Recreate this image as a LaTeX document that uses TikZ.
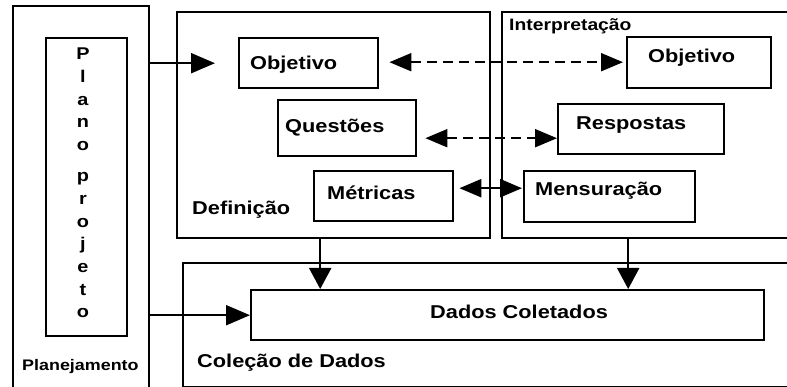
\documentclass[tikz,border=0pt]{standalone}
\usepackage{fontspec}
\setmainfont[FakeStretch=1.17]{Liberation Sans}
\usetikzlibrary{arrows.meta}
\begin{document}
\begin{tikzpicture}[x=1pt,y=-1pt,
  box/.style={draw, line width=2.4pt, inner sep=0pt, anchor=north west},
  txt/.style={font=\bfseries\fontsize{18.6}{20}\selectfont, inner sep=0pt, anchor=base west},
  smalltxt/.style={font=\bfseries\fontsize{16.5}{18}\selectfont, inner sep=0pt, anchor=base west},
  tinytxt/.style={font=\bfseries\fontsize{15.3}{17}\selectfont, inner sep=0pt, anchor=base west},
  arr/.style={line width=2pt, -{Triangle[length=24pt,width=20pt]}},
  darr/.style={line width=2pt, dash pattern=on 10pt off 6pt,
    {Triangle[length=22pt,width=18pt]}-{Triangle[length=22pt,width=18pt]}},
  sarr/.style={line width=2.4pt,
    {Triangle[length=22pt,width=18pt]}-{Triangle[length=22pt,width=18pt]}},
  darrow/.style={line width=2pt, -{Triangle[length=21pt,width=22pt]}}]
\clip (0,0) rectangle (787,387);
\fill[white] (0,0) rectangle (787,387);

% containers
\node[box, minimum width=136pt, minimum height=420pt] (plan) at (12,5) {};
\node[box, minimum width=81pt, minimum height=298pt] (plano) at (45,37) {};
\node[box, minimum width=313pt, minimum height=226pt] (def) at (176,11) {};
\node[box, minimum width=330pt, minimum height=226pt] (interp) at (501,11) {};
\node[box, minimum width=640pt, minimum height=124pt] (colecao) at (182,262) {};

% inner boxes
\node[box, minimum width=139pt, minimum height=50pt] (obj1) at (238,37) {};
\node[box, minimum width=144pt, minimum height=51pt] (obj2) at (626,36) {};
\node[box, minimum width=138pt, minimum height=56pt] (quest) at (277,99) {};
\node[box, minimum width=166pt, minimum height=50pt] (resp) at (557,103) {};
\node[box, minimum width=139pt, minimum height=50pt] (metr) at (313,170) {};
\node[box, minimum width=171pt, minimum height=51pt] (mens) at (523,170) {};
\node[box, minimum width=513pt, minimum height=50pt] (dados) at (250,289) {};

% texts
\node[txt] (tobj1) at (250,70) {Objetivo};
\node[txt] (tobj2) at (648,63) {Objetivo};
\node[txt] (tquest) at (285,133) {Questões};
\node[txt] (tresp) at (576,130) {Respostas};
\node[txt] (tmetr) at (327,200) {Métricas};
\node[txt] (tmens) at (535,196) {Mensuração};
\node[txt] (tdados) at (430,319) {Dados Coletados};
\node[txt] (tdef) at (192,215) {Definição};
\node[txt] (tcol) at (197,367) {Coleção de Dados};
\node[smalltxt] (tint) at (509,31) {Interpretação};
\node[tinytxt] (tplan) at (22,370) {Planejamento};
\node[font=\bfseries\fontsize{17}{22.7}\selectfont, inner sep=0pt, align=center, anchor=north] (tplano) at (83,48)
  {P\\l\\a\\n\\o\\[8.3pt]p\\r\\o\\j\\e\\t\\o};

% connectors
\draw[arr, shorten >=23pt] (obj1.west -| plan.east) -- (obj1.west);
\draw[darr, shorten <=10pt, shorten >=3pt] ([yshift=1pt]obj1.east) -- ([yshift=1pt]obj1.east -| obj2.west);
\draw[darr, shorten <=8pt] ([yshift=-10pt]quest.east) -- ([yshift=-10pt]quest.east -| resp.west);
\draw[sarr, shorten <=5pt, shorten >=1pt] ([yshift=8pt]metr.east) -- ([yshift=8pt]metr.east -| mens.west);
\draw[darrow] ([xshift=-13.5pt]def.south) -- ([xshift=-13.5pt]def.south |- dados.north);
\draw[darrow] ([xshift=-39pt]interp.south) -- ([xshift=-39pt]interp.south |- dados.north);
\draw[arr] (dados.west -| plan.east) -- (dados.west);
\end{tikzpicture}
\end{document}
